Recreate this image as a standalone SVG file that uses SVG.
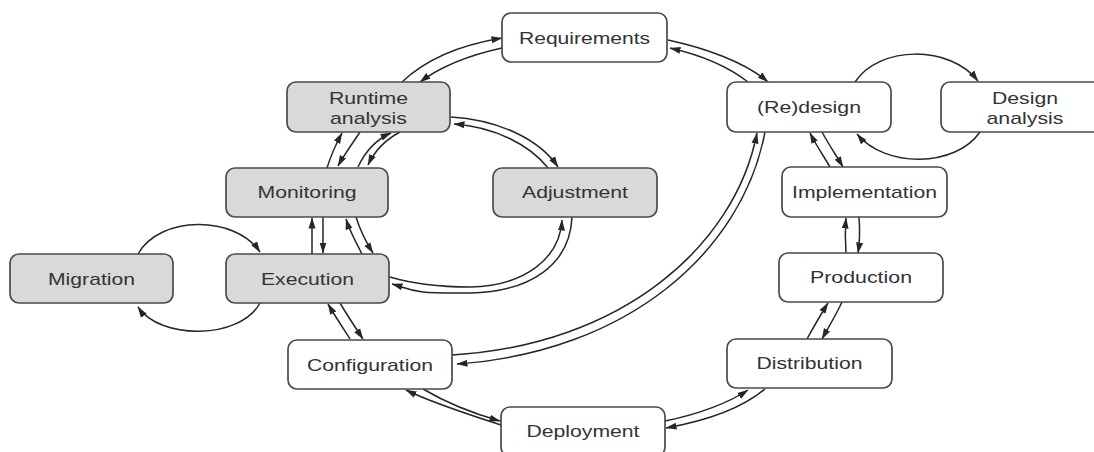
<svg xmlns="http://www.w3.org/2000/svg" width="1094" height="452" viewBox="0 0 1094 452">
  <style>
    .box { stroke: #4a4a4a; stroke-width: 1.7; }
    .w { fill: #ffffff; }
    .g { fill: #d9d9d9; }
    .t { font-family: "Liberation Sans", Arial, sans-serif; font-size: 17px; fill: #333333; text-anchor: middle; }
    .c { fill: none; stroke: #262626; stroke-width: 1.5; marker-end: url(#ah); }
  </style>
  <defs>
    <marker id="ah" markerUnits="userSpaceOnUse" markerWidth="11" markerHeight="8" refX="10.5" refY="4" orient="auto">
      <path d="M0,0.5 L11,4 L0,7.5 z" fill="#262626"/>
    </marker>
  </defs>
  <rect width="1094" height="452" fill="#ffffff"/>

  <g id="connectors">
    <path class="c" d="M402,82 C425,60 460,45 502,38"/>
    <path class="c" d="M502,48 C470,55 440,67 420,82"/>
    <path class="c" d="M668,40 C705,48 745,62 768,82"/>
    <path class="c" d="M748,82 C730,68 705,56 670,48"/>
    <path class="c" d="M855,82 C880,45 950,45 978,81"/>
    <path class="c" d="M980,132 C955,168 885,168 857,134"/>
    <path class="c" d="M822,132 C829,145 836,155 843,167"/>
    <path class="c" d="M830,167 C823,155 816,145 810,133"/>
    <path class="c" d="M859,217 C860,230 860,240 858,253"/>
    <path class="c" d="M846,253 C845,240 845,230 846,218"/>
    <path class="c" d="M842,302 C836,315 828,328 822,339"/>
    <path class="c" d="M807,339 C813,328 820,316 828,303"/>
    <path class="c" d="M765,389 C740,410 700,422 666,428"/>
    <path class="c" d="M665,421 C700,414 730,402 748,390"/>
    <path class="c" d="M501,425 C470,415 430,402 406,390"/>
    <path class="c" d="M423,389 C445,402 475,414 500,421"/>
    <path class="c" d="M350,339 C343,328 335,316 328,304"/>
    <path class="c" d="M340,303 C347,315 355,327 363,339"/>
    <path class="c" d="M765,132 C742,252 628,352 457,364"/>
    <path class="c" d="M452,355 C622,345 735,246 757,133"/>
    <path class="c" d="M327,168 C331,155 336,144 342,133"/>
    <path class="c" d="M360,132 C352,144 344,155 338,166"/>
    <path class="c" d="M312,254 L312,218"/>
    <path class="c" d="M323,217 L323,253"/>
    <path class="c" d="M138,254 C160,215 235,215 260,252"/>
    <path class="c" d="M260,303 C240,340 160,340 138,307"/>
    <path class="c" d="M451,117 C500,120 540,140 558,167"/>
    <path class="c" d="M548,168 C530,145 495,127 454,124"/>
    <path class="c" d="M572,217 C570,265 530,292 470,293 S410,289 392,284"/>
    <path class="c" d="M390,277 C410,283 440,287 470,287 C525,286 560,258 562,220"/>
    <path class="c" d="M362,254 C356,242 350,232 346,219"/>
    <path class="c" d="M356,217 C360,230 366,242 373,253"/>
    <path class="c" d="M358,167 C365,152 375,140 391,133"/>
    <path class="c" d="M400,132 C385,140 375,150 368,165"/>
  </g>

  <g id="requirements">
    <rect class="box w" x="502" y="13" width="165" height="49" rx="9"/>
    <text class="t" x="584.5" y="44" textLength="131" lengthAdjust="spacingAndGlyphs">Requirements</text>
  </g>
  <g id="runtime-analysis">
    <rect class="box g" x="287" y="82" width="163" height="50" rx="9"/>
    <text class="t" x="368.5" y="104" textLength="79" lengthAdjust="spacingAndGlyphs">Runtime</text>
    <text class="t" x="368.5" y="124" textLength="77" lengthAdjust="spacingAndGlyphs">analysis</text>
  </g>
  <g id="monitoring">
    <rect class="box g" x="226" y="168" width="162" height="49" rx="9"/>
    <text class="t" x="307" y="198" textLength="99" lengthAdjust="spacingAndGlyphs">Monitoring</text>
  </g>
  <g id="adjustment">
    <rect class="box g" x="493" y="168" width="164" height="49" rx="9"/>
    <text class="t" x="575" y="198" textLength="106" lengthAdjust="spacingAndGlyphs">Adjustment</text>
  </g>
  <g id="migration">
    <rect class="box g" x="10" y="254" width="163" height="49" rx="9"/>
    <text class="t" x="91.5" y="285" textLength="87" lengthAdjust="spacingAndGlyphs">Migration</text>
  </g>
  <g id="execution">
    <rect class="box g" x="226" y="254" width="163" height="49" rx="9"/>
    <text class="t" x="307.5" y="285" textLength="93" lengthAdjust="spacingAndGlyphs">Execution</text>
  </g>
  <g id="configuration">
    <rect class="box w" x="288" y="340" width="164" height="49" rx="9"/>
    <text class="t" x="370" y="371" textLength="126" lengthAdjust="spacingAndGlyphs">Configuration</text>
  </g>
  <g id="deployment">
    <rect class="box w" x="501" y="407" width="164" height="49" rx="9"/>
    <text class="t" x="583" y="437" textLength="113" lengthAdjust="spacingAndGlyphs">Deployment</text>
  </g>
  <g id="redesign">
    <rect class="box w" x="727" y="82" width="164" height="50" rx="9"/>
    <text class="t" x="809" y="113" textLength="104" lengthAdjust="spacingAndGlyphs">(Re)design</text>
  </g>
  <g id="design-analysis">
    <rect class="box w" x="941" y="82" width="164" height="50" rx="9"/>
    <text class="t" x="1025" y="104" textLength="66" lengthAdjust="spacingAndGlyphs">Design</text>
    <text class="t" x="1025" y="124" textLength="77" lengthAdjust="spacingAndGlyphs">analysis</text>
  </g>
  <g id="implementation">
    <rect class="box w" x="782" y="167" width="165" height="50" rx="9"/>
    <text class="t" x="864.5" y="198" textLength="145" lengthAdjust="spacingAndGlyphs">Implementation</text>
  </g>
  <g id="production">
    <rect class="box w" x="779" y="253" width="164" height="49" rx="9"/>
    <text class="t" x="861" y="283" textLength="102" lengthAdjust="spacingAndGlyphs">Production</text>
  </g>
  <g id="distribution">
    <rect class="box w" x="727" y="339" width="165" height="49" rx="9"/>
    <text class="t" x="809.5" y="369" textLength="106" lengthAdjust="spacingAndGlyphs">Distribution</text>
  </g>
</svg>
